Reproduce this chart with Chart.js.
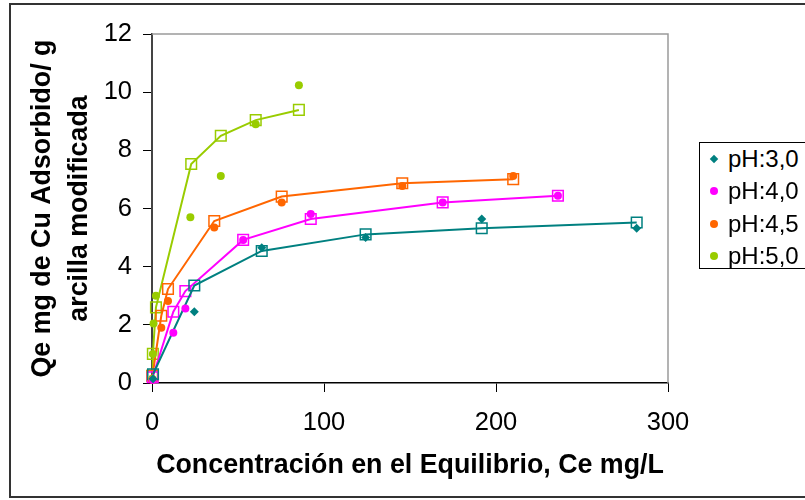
<!DOCTYPE html>
<html>
<head>
<meta charset="utf-8">
<script src="https://cdn.jsdelivr.net/npm/chart.js@4/dist/chart.umd.min.js"></script>
<style>
  html, body { margin: 0; padding: 0; background: #fff; overflow: hidden; }
  #wrap { position: relative; width: 805px; height: 500px; }
  #frame { position: absolute; left: 9px; top: 3px; width: 810px; height: 495px; border: 2px solid #333; box-sizing: border-box; }
  #chartCanvas { position: absolute; left: 0; top: 0; }
  #legend { position: absolute; left: 699px; top: 142px; width: 112px; height: 127px; border: 1.5px solid #000;
            box-sizing: border-box; background: #fff; font: 24px "Liberation Sans", Arial, sans-serif; color: #000; }
  .row { position: absolute; left: 0; height: 32px; line-height: 32px; white-space: nowrap; }
  .mark { position: absolute; left: 10px; top: 12px; width: 8px; height: 8px; border-radius: 50%; }
  .mark.diamond { border-radius: 0; width: 6px; height: 6px; top: 13px; left: 11px; transform: rotate(45deg); }
  .txt { position: absolute; left: 28px; top: 0; }
</style>
</head>
<body>
<div id="wrap">
  <div id="frame"></div>
  <canvas id="chartCanvas" width="805" height="500"></canvas>
  <div id="legend"></div>
</div>
<script>
const seriesNames = ['pH:3,0', 'pH:4,0', 'pH:4,5', 'pH:5,0'];
const seriesColors = ['#008080', '#FF00FF', '#FF6600', '#99CC00'];

// measured points (Ce, Qe)
const ph30Ce = [0.6, 24.6, 63.8, 124.2, 191.7, 281.8];
const ph30Qe = [0.15, 2.45, 4.65, 5.0, 5.64, 5.32];
const ph40Ce = [0.4, 12.4, 19.4, 53, 92.3, 169, 236];
const ph40Qe = [0.1, 1.73, 2.56, 4.92, 5.81, 6.21, 6.44];
const ph45Ce = [0.3, 5.4, 9.3, 36.2, 75.4, 145.5, 210];
const ph45Qe = [0.1, 1.9, 2.82, 5.35, 6.21, 6.77, 7.12];
const ph50Ce = [0.1, 0.5, 0.9, 2.3, 22.3, 40, 60.3, 85.4];
const ph50Qe = [0.15, 1.0, 2.05, 3.0, 5.7, 7.12, 8.9, 10.24];

// model curves
const ph30ModelCe = [0.6, 24.6, 63.8, 124.2, 191.7, 281.8];
const ph30ModelQe = [0.3, 3.35, 4.54, 5.11, 5.32, 5.52];
const ph40ModelCe = [0.4, 12.4, 19.4, 53, 92.3, 169, 236];
const ph40ModelQe = [0.2, 2.45, 3.16, 4.92, 5.64, 6.21, 6.44];
const ph45ModelCe = [0.3, 5.4, 9.3, 36.2, 75.4, 145.5, 210];
const ph45ModelQe = [0.25, 2.31, 3.23, 5.57, 6.41, 6.87, 7.01];
const ph50ModelCe = [0.1, 0.5, 2.3, 22.8, 40, 60.3, 85.4];
const ph50ModelQe = [0.25, 1.0, 2.6, 7.53, 8.5, 9.04, 9.39];

const xTicks = [0, 100, 200, 300];
const yTicks = [0, 2, 4, 6, 8, 10, 12];

const measured = [[ph30Ce, ph30Qe], [ph40Ce, ph40Qe], [ph45Ce, ph45Qe], [ph50Ce, ph50Qe]];
const models = [[ph30ModelCe, ph30ModelQe], [ph40ModelCe, ph40ModelQe], [ph45ModelCe, ph45ModelQe], [ph50ModelCe, ph50ModelQe]];

function toPoints(xs, ys) {
    return xs.map((x, i) => ({ x: x, y: ys[i] }));
}

const datasets = [];
measured.forEach((s, i) => {
    datasets.push({
        label: seriesNames[i],
        data: toPoints(s[0], s[1]),
        showLine: false,
        pointStyle: i === 0 ? 'rectRot' : 'circle',
        pointRadius: i === 0 ? 4.5 : 4,
        backgroundColor: seriesColors[i],
        borderColor: seriesColors[i],
        borderWidth: 0,
        clip: false
    });
});
models.forEach((s, i) => {
    datasets.push({
        label: seriesNames[i] + ' modelo',
        data: toPoints(s[0], s[1]),
        showLine: true,
        tension: 0,
        borderColor: seriesColors[i],
        borderWidth: 2,
        pointStyle: 'rect',
        pointRadius: 7.5,
        pointBorderWidth: 1.5,
        pointBorderColor: seriesColors[i],
        pointBackgroundColor: 'rgba(0,0,0,0)',
        clip: false
    });
});

// gray frame on top and right of plot area
const plotFrame = {
    id: 'plotFrame',
    beforeDatasetsDraw(chart) {
        const { ctx, chartArea: a } = chart;
        ctx.save();
        ctx.strokeStyle = '#9a9a9a';
        ctx.lineWidth = 1.5;
        ctx.beginPath();
        ctx.moveTo(a.left, a.top);
        ctx.lineTo(a.right, a.top);
        ctx.lineTo(a.right, a.bottom);
        ctx.stroke();
        ctx.restore();
    }
};

const tickFont = { family: '"Liberation Sans", Arial, sans-serif', size: 25.5 };
const titleFont = { family: '"Liberation Sans", Arial, sans-serif', size: 26.8, weight: 'bold' };

new Chart(document.getElementById('chartCanvas').getContext('2d'), {
    type: 'scatter',
    data: { datasets: datasets },
    options: {
        responsive: false,
        animation: false,
        devicePixelRatio: 1,
        layout: { padding: { left: 0, top: 34, right: 137, bottom: 0 } },
        plugins: { legend: { display: false }, tooltip: { enabled: false } },
        scales: {
            x: {
                type: 'linear',
                min: 0,
                max: 300,
                afterBuildTicks: s => { s.ticks = xTicks.map(v => ({ value: v })); },
                afterFit: s => { s.height = 117; },
                ticks: { font: tickFont, color: '#000', padding: 16 },
                grid: { drawOnChartArea: false, drawTicks: true, tickLength: 9, color: '#000', lineWidth: 1 },
                border: { color: '#000', width: 1.5 },
                title: {
                    display: true,
                    text: 'Concentración en el Equilibrio, Ce mg/L',
                    font: titleFont,
                    color: '#000',
                    padding: { top: 0, bottom: 18 }
                }
            },
            y: {
                type: 'linear',
                min: 0,
                max: 12,
                afterBuildTicks: s => { s.ticks = yTicks.map(v => ({ value: v })); },
                afterFit: s => { s.width = 152; },
                ticks: { font: tickFont, color: '#000', padding: 11 },
                grid: { drawOnChartArea: false, drawTicks: true, tickLength: 9, color: '#000', lineWidth: 1 },
                border: { color: '#444', width: 2 },
                title: {
                    display: true,
                    text: ['Qe mg de Cu Adsorbido/ g', 'arcilla modificada'],
                    font: Object.assign({ lineHeight: 1.35 }, titleFont),
                    color: '#000',
                    padding: { top: 25, bottom: 0 }
                }
            }
        }
    },
    plugins: [plotFrame]
});

// legend box (measured series only)
const legend = document.getElementById('legend');
seriesNames.forEach((name, i) => {
    const row = document.createElement('div');
    row.className = 'row';
    row.style.top = (i * 32.3) + 'px';
    const mark = document.createElement('span');
    mark.className = i === 0 ? 'mark diamond' : 'mark';
    mark.style.background = seriesColors[i];
    const txt = document.createElement('span');
    txt.className = 'txt';
    txt.textContent = name;
    row.appendChild(mark);
    row.appendChild(txt);
    legend.appendChild(row);
});
</script>
</body>
</html>
